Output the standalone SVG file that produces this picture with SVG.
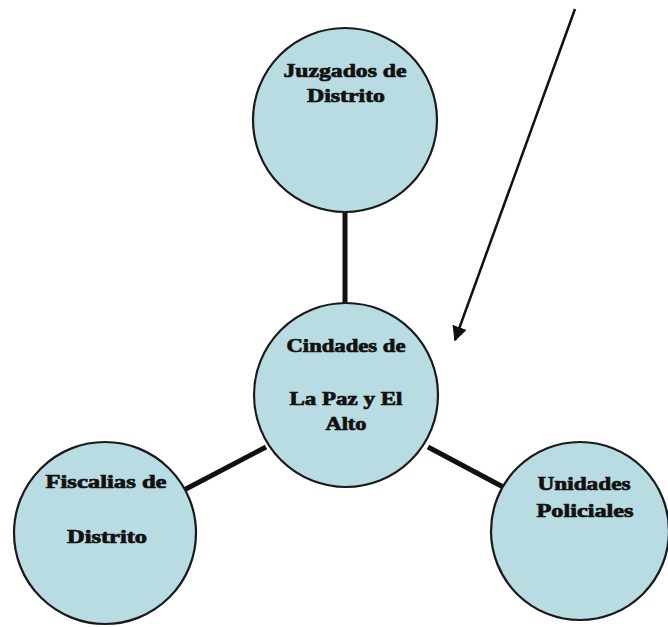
<svg xmlns="http://www.w3.org/2000/svg" width="668" height="627" viewBox="0 0 668 627">
<style>
.node circle{fill:#b8dce2;stroke:#1a1a1a;stroke-width:2.2}
.node text{font-family:"Liberation Serif","Times New Roman",serif;font-weight:bold;font-size:18px;fill:#111;stroke:#111;stroke-width:0.7;text-anchor:middle}
.conn{stroke:#111;stroke-width:5;fill:none}
.arrow{stroke:#111;stroke-width:2.5;fill:none}
</style>
<defs>
<marker id="ah" viewBox="0 0 10 10" refX="9" refY="5" markerWidth="6" markerHeight="6" orient="auto" markerUnits="strokeWidth">
<path d="M0,0 L10,5 L0,10 z" fill="#111"/>
</marker>
</defs>
<rect width="668" height="627" fill="#fff"/>
<g id="connectors">
<line class="conn" x1="345" y1="212" x2="345" y2="303"/>
<line class="conn" x1="266" y1="447" x2="184" y2="490"/>
<line class="conn" x1="428" y1="447" x2="505" y2="488"/>
<line class="arrow" x1="575" y1="9" x2="455" y2="340" marker-end="url(#ah)"/>
</g>
<g id="juzgados" class="node">
<circle cx="345" cy="120" r="92"/>
<text x="345" y="77" textLength="123" lengthAdjust="spacingAndGlyphs">Juzgados de</text>
<text x="346" y="102" textLength="78" lengthAdjust="spacingAndGlyphs">Distrito</text>
</g>
<g id="ciudades" class="node">
<circle cx="346" cy="395" r="92"/>
<text x="346" y="352" textLength="119" lengthAdjust="spacingAndGlyphs">Cindades de</text>
<text x="346" y="405" textLength="113" lengthAdjust="spacingAndGlyphs">La Paz y El</text>
<text x="346" y="430" textLength="41" lengthAdjust="spacingAndGlyphs">Alto</text>
</g>
<g id="fiscalias" class="node">
<circle cx="105" cy="533" r="91"/>
<text x="106" y="488" textLength="121" lengthAdjust="spacingAndGlyphs">Fiscalias de</text>
<text x="107" y="543" textLength="80" lengthAdjust="spacingAndGlyphs">Distrito</text>
</g>
<g id="unidades" class="node">
<circle cx="580" cy="531" r="89"/>
<text x="584" y="490" textLength="93" lengthAdjust="spacingAndGlyphs">Unidades</text>
<text x="585" y="517" textLength="97" lengthAdjust="spacingAndGlyphs">Policiales</text>
</g>
</svg>
